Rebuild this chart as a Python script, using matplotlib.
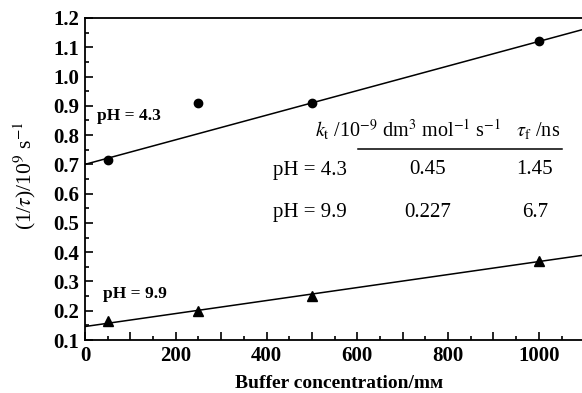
import matplotlib
matplotlib.use("Agg")
import matplotlib.pyplot as plt
import numpy as np
from matplotlib.ticker import MultipleLocator, FuncFormatter

plt.rcParams['font.family'] = ['Liberation Serif', 'DejaVu Serif']
plt.rcParams['mathtext.fontset'] = 'stix'

# data
conc = [50, 250, 500, 1000]
rate_ph43 = [0.715, 0.91, 0.91, 1.12]
rate_ph99 = [0.165, 0.20, 0.25, 0.37]
fit_ph43 = (0.70, 0.00042)   # intercept, slope
fit_ph99 = (0.146, 0.000222)
table_rows = ["pH = 4.3", "pH = 9.9"]
table_kt = ["0.45", "0.227"]
table_tau = ["1.45", "6.7"]

W, H = 582, 393
fig = plt.figure(figsize=(W/100, H/100), dpi=100)
ax = fig.add_axes([85/W, (H-340)/H, 1 - 85/W, (340-18)/H])

xmax = 1095
xx = np.array([0, xmax])
ax.plot(xx, fit_ph43[0] + fit_ph43[1]*xx, color='black', lw=1.1)
ax.plot(xx, fit_ph99[0] + fit_ph99[1]*xx, color='black', lw=1.1)
ax.plot(conc, rate_ph43, 'o', color='black', ms=6)
ax.plot(conc, rate_ph99, '^', color='black', ms=7)

ax.set_xlim(0, xmax)
ax.set_ylim(0.1, 1.2)
ax.spines['right'].set_visible(False)
for s in ax.spines.values():
    s.set_linewidth(1.3)

ax.xaxis.set_major_locator(MultipleLocator(100))
ax.xaxis.set_minor_locator(MultipleLocator(50))
ax.xaxis.set_major_formatter(FuncFormatter(lambda v, p: f"{int(round(v))}" if int(round(v)) % 200 == 0 else ""))
ax.yaxis.set_major_locator(MultipleLocator(0.1))
ax.yaxis.set_minor_locator(MultipleLocator(0.05))
ax.yaxis.set_major_formatter(FuncFormatter(lambda v, p: f"{v:.1f}"))
ax.tick_params(which='both', direction='in', top=False, right=False, width=1.2)
ax.tick_params(which='major', length=6, labelsize=15, pad=4)
ax.tick_params(which='minor', length=3)
for lab in ax.get_xticklabels() + ax.get_yticklabels():
    lab.set_fontweight('bold')

ax.set_xlabel("Buffer concentration/mᴍ", fontsize=14, fontweight='bold')
ax.xaxis.set_label_coords((339-85)/497, -(383-340)/322, transform=ax.transAxes)
ax.xaxis.label.set_va('center')
ax.set_ylabel(r"(1/$\tau$)/10$^{9}$ s$^{-1}$", fontsize=15.5)
ax.yaxis.set_label_coords(-(85-25)/497, (340-176)/322, transform=ax.transAxes)
ax.yaxis.label.set_va('center')

ax.text(27, 0.85, "pH = 4.3", fontsize=12.5, fontweight='bold')
ax.text(40, 0.245, "pH = 9.9", fontsize=12.5, fontweight='bold')

# table
ax.text((438-85)/497, (340-130)/322,
        r"$k_{\rm t}$ /10$^{-9}$ dm$^3$ mol$^{-1}$ s$^{-1}$   $\tau_{\rm f}$ /ns",
        transform=ax.transAxes, fontsize=14.5, ha='center', va='center')
ax.plot([(358-85)/497, (562-85)/497], [(340-149)/322]*2, transform=ax.transAxes,
        color='black', lw=1.1)
row_y = [(340-170)/322, (340-213)/322]
for i in range(2):
    ax.text((273-85)/497, row_y[i], table_rows[i], transform=ax.transAxes, fontsize=15, va='center')
    ax.text(0.69, row_y[i], table_kt[i], transform=ax.transAxes, fontsize=15, va='center', ha='center')
    ax.text(0.905, row_y[i], table_tau[i], transform=ax.transAxes, fontsize=15, va='center', ha='center')

fig.savefig("out.png", dpi=100)
